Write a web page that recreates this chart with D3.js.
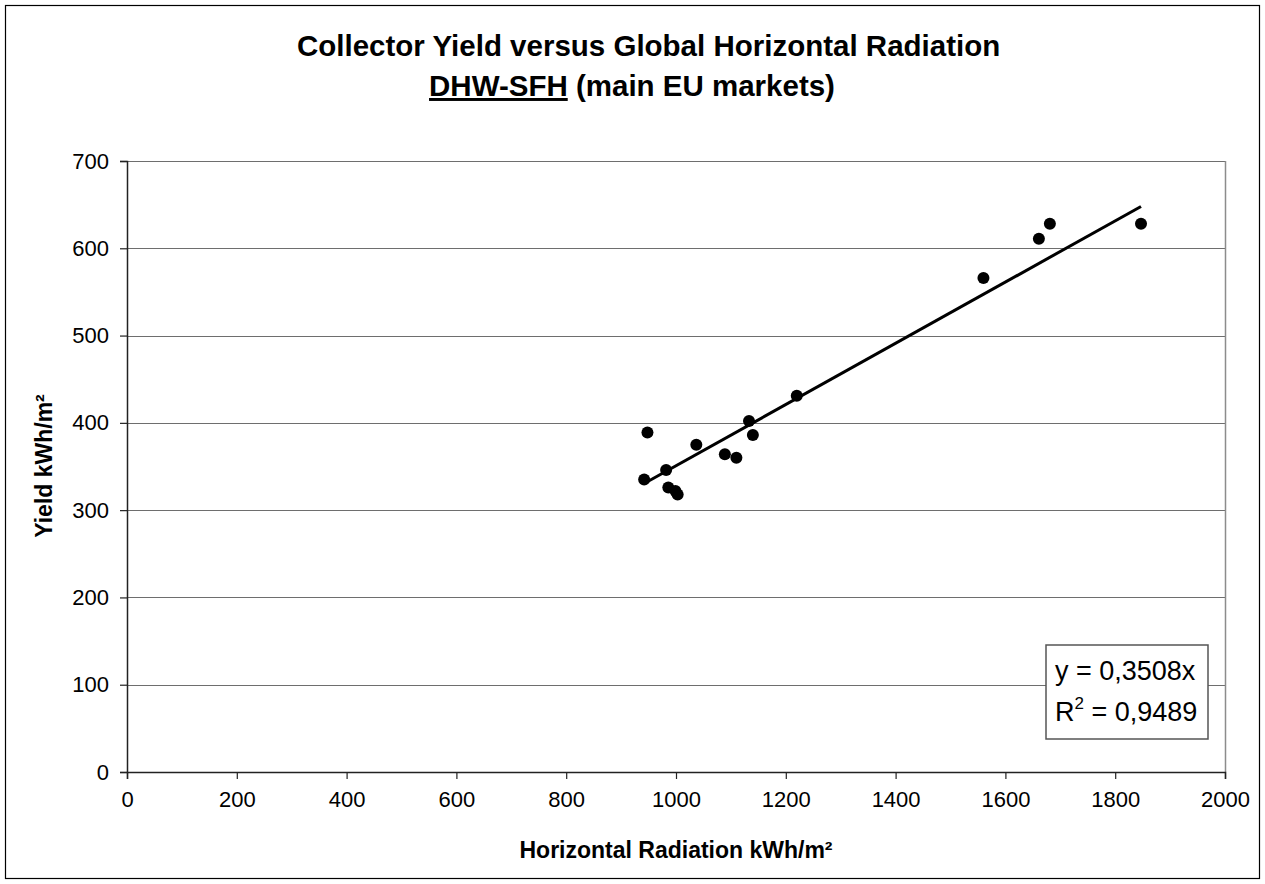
<!DOCTYPE html>
<html>
<head>
<meta charset="utf-8">
<script src="https://cdn.jsdelivr.net/npm/d3@7"></script>
<style>
  body { margin: 0; background: #fff; }
  text { font-family: 'Liberation Sans', Arial, sans-serif; }
</style>
</head>
<body>
<div id="chart"></div>
<script>
// Data

var radiation = [948, 942, 982, 986, 999, 1003, 1037, 1089, 1110, 1133, 1140, 1220, 1560, 1661, 1681, 1847]
var yieldValues = [389, 335, 346, 326, 322, 318, 375, 364, 360, 402, 386, 431, 566, 611, 628, 628]

var xTicks = [0, 200, 400, 600, 800, 1000, 1200, 1400, 1600, 1800, 2000]
var yTicks = [0, 100, 200, 300, 400, 500, 600, 700]

var slope = 0.3508
var rSquared = '0,9489'

// Set up margin/height/width

var margin = { top: 161, left: 127, right: 40, bottom: 112 }
var fullWidth = 1265
var fullHeight = 884
var width = 1098
var height = 611

var root = d3
  .select('#chart')
  .append('svg')
  .attr('width', fullWidth)
  .attr('height', fullHeight)

// outer chart border
root
  .append('rect')
  .attr('x', 5.5)
  .attr('y', 5.5)
  .attr('width', 1254)
  .attr('height', 873)
  .attr('fill', 'none')
  .attr('stroke', '#000')
  .attr('stroke-width', 1.2)

var svg = root
  .append('g')
  .attr('transform', 'translate(' + margin.left + ',' + margin.top + ')')

// Scales

var xPositionScale = d3.scaleLinear().domain([0, 2000]).range([0, width])
var yPositionScale = d3.scaleLinear().domain([0, 700]).range([height, 0])

// Gridlines

svg
  .selectAll('.grid')
  .data(yTicks.filter(d => d > 0))
  .enter()
  .append('line')
  .attr('class', 'grid')
  .attr('x1', 0)
  .attr('x2', width)
  .attr('y1', d => Math.round(yPositionScale(d)) + 0.5)
  .attr('y2', d => Math.round(yPositionScale(d)) + 0.5)
  .attr('stroke', '#6e6e6e')
  .attr('stroke-width', 1)

// right edge of plot area
svg
  .append('line')
  .attr('x1', width + 0.5)
  .attr('x2', width + 0.5)
  .attr('y1', yPositionScale(700))
  .attr('y2', height)
  .attr('stroke', '#8c8c8c')
  .attr('stroke-width', 1.5)

// Axes

var xAxis = d3
  .axisBottom(xPositionScale)
  .tickValues(xTicks)
  .tickSize(7)
  .tickPadding(12)
  .tickFormat(d => d)

svg
  .append('g')
  .attr('class', 'axis x-axis')
  .attr('transform', 'translate(0,' + height + ')')
  .call(xAxis)

var yAxis = d3
  .axisLeft(yPositionScale)
  .tickValues(yTicks)
  .tickSize(7)
  .tickPadding(11)
  .tickFormat(d => d)

svg
  .append('g')
  .attr('class', 'axis y-axis')
  .call(yAxis)

svg.selectAll('.axis .domain').attr('stroke', '#222').attr('stroke-width', 1.5)
svg.selectAll('.axis .tick line').attr('stroke', '#222').attr('stroke-width', 1.2)
svg
  .selectAll('.axis text')
  .attr('font-size', 22)
  .attr('fill', '#000')
  .style('font-family', "'Liberation Sans', Arial, sans-serif")

// Trend line y = 0.3508x through the data range

var trendX = d3.extent(radiation)

svg
  .append('line')
  .attr('x1', xPositionScale(trendX[0]))
  .attr('y1', yPositionScale(slope * trendX[0]))
  .attr('x2', xPositionScale(trendX[1]))
  .attr('y2', yPositionScale(slope * trendX[1]))
  .attr('stroke', '#000')
  .attr('stroke-width', 3)

// Points

svg
  .selectAll('.point')
  .data(radiation)
  .enter()
  .append('circle')
  .attr('class', 'point')
  .attr('r', 6)
  .attr('cx', d => xPositionScale(d))
  .attr('cy', (d, i) => yPositionScale(yieldValues[i]))
  .attr('fill', '#000')

// Equation box

var box = svg
  .append('g')
  .attr('transform', 'translate(' + (1046 - margin.left) + ',' + (645 - margin.top) + ')')

box
  .append('rect')
  .attr('width', 162)
  .attr('height', 94)
  .attr('fill', '#fff')
  .attr('stroke', '#555')
  .attr('stroke-width', 1.5)

box
  .append('text')
  .attr('x', 9)
  .attr('y', 35)
  .attr('font-size', 27)
  .text('y = ' + String(slope).replace('.', ',') + 'x')

var r2 = box
  .append('text')
  .attr('x', 9)
  .attr('y', 76)
  .attr('font-size', 27)

r2.append('tspan').text('R')
r2
  .append('tspan')
  .attr('font-size', 17)
  .attr('dy', -12)
  .text('2')
r2
  .append('tspan')
  .attr('dy', 12)
  .text(' = ' + rSquared)

// Titles

root
  .append('text')
  .attr('x', 297)
  .attr('y', 56)
  .attr('font-size', 29.5)
  .attr('font-weight', 'bold')
  .text('Collector Yield versus Global Horizontal Radiation')

var subtitle = root
  .append('text')
  .attr('x', 632)
  .attr('y', 96)
  .attr('text-anchor', 'middle')
  .attr('font-size', 29.5)
  .attr('font-weight', 'bold')

subtitle
  .append('tspan')
  .style('text-decoration', 'underline')
  .text('DHW-SFH')
subtitle.append('tspan').text(' (main EU markets)')

// Axis labels

root
  .append('text')
  .attr('x', margin.left + width / 2)
  .attr('y', 858)
  .attr('text-anchor', 'middle')
  .attr('font-size', 23)
  .attr('font-weight', 'bold')
  .text('Horizontal Radiation kWh/m²')

root
  .append('text')
  .attr('transform', 'translate(52,466) rotate(-90)')
  .attr('text-anchor', 'middle')
  .attr('font-size', 23)
  .attr('font-weight', 'bold')
  .text('Yield kWh/m²')
</script>
</body>
</html>
